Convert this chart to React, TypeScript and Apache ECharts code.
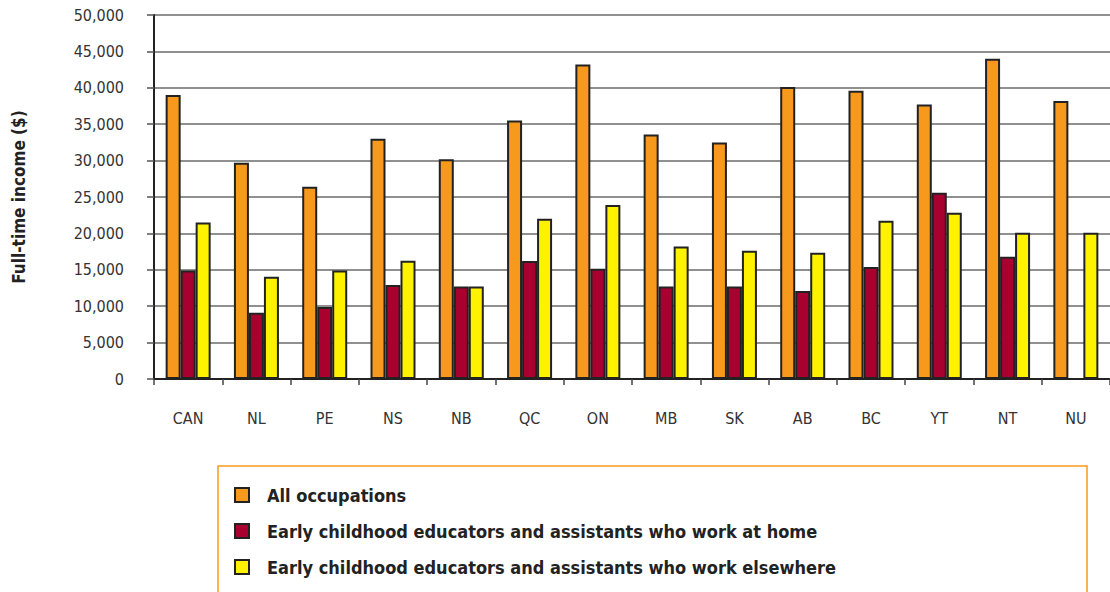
import React, { useEffect, useRef } from "react";
import * as echarts from "echarts";

const categories = ["CAN", "NL", "PE", "NS", "NB", "QC", "ON", "MB", "SK", "AB", "BC", "YT", "NT", "NU"];
const allOccupations = [39000, 29700, 26400, 33000, 30200, 35500, 43200, 33600, 32500, 40100, 39600, 37700, 44000, 38200];
const workAtHome = [14900, 9100, 9900, 12900, 12700, 16200, 15150, 12700, 12700, 12100, 15400, 25600, 16800, null];
const workElsewhere = [21500, 14050, 14900, 16250, 12700, 22000, 23900, 18200, 17600, 17350, 21750, 22850, 20100, 20100];
const seriesNames = [
  "All occupations",
  "Early childhood educators and assistants who work at home",
  "Early childhood educators and assistants who work elsewhere",
];
const yTicks = { min: 0, max: 50000, interval: 5000 };

const FONT = "'Liberation Sans Narrow', 'DejaVu Sans Condensed', 'Roboto', sans-serif";
const COLORS = ["#F7991C", "#A8002F", "#FFF200"];

export default function App() {
  const ref = useRef<HTMLDivElement>(null);
  useEffect(() => {
    if (!ref.current) return;
    const chart = echarts.init(ref.current, null, { renderer: "svg" });
    const data = [allOccupations, workAtHome, workElsewhere];
    chart.setOption({
      animation: false,
      backgroundColor: "#ffffff",
      textStyle: { fontFamily: FONT },
      grid: { left: 154, top: 15, right: 0, bottom: 213, containLabel: false },
      legend: {
        orient: "vertical",
        left: 229,
        top: 481,
        itemWidth: 14,
        itemHeight: 14,
        itemGap: 18,
        icon: "rect",
        textStyle: { fontFamily: FONT, fontSize: 18, fontWeight: "bold", color: "#222", padding: [0, 0, 0, 13] },
        data: seriesNames,
      },
      graphic: [
        {
          type: "rect",
          shape: { x: 218, y: 466, width: 869, height: 140 },
          style: { fill: "none", stroke: "#F7991C", lineWidth: 1.5 },
          z: -1,
        },
      ],
      xAxis: {
        type: "category",
        data: categories,
        boundaryGap: true,
        axisLine: { show: true, lineStyle: { color: "#222", width: 2 } },
        axisTick: { show: true, length: 6, lineStyle: { color: "#444", width: 1.5 } },
        axisLabel: { margin: 31, fontSize: 16, color: "#333", fontFamily: FONT },
      },
      yAxis: {
        type: "value",
        min: yTicks.min,
        max: yTicks.max,
        interval: yTicks.interval,
        name: "Full-time income ($)",
        nameLocation: "middle",
        nameRotate: 90,
        nameGap: 127,
        nameTextStyle: { fontSize: 17, fontWeight: "bold", color: "#222", fontFamily: FONT },
        axisLine: { show: true, lineStyle: { color: "#222", width: 2 } },
        axisTick: { show: true, length: 7, lineStyle: { color: "#555", width: 1.5 } },
        axisLabel: {
          margin: 30,
          fontSize: 16,
          color: "#333",
          fontFamily: FONT,
          formatter: (v: number) => v.toLocaleString("en-US"),
        },
        splitLine: { show: true, lineStyle: { color: "#6b6b6b", width: 1.5 } },
      },
      series: seriesNames.map((name, i) => ({
        name,
        type: "bar",
        data: data[i],
        barWidth: 15,
        barGap: "0%",
        itemStyle: { color: COLORS[i], borderColor: "#222", borderWidth: 2 },
      })),
    });
    return () => chart.dispose();
  }, []);
  return (
    <div
      ref={ref}
      style={{ position: "fixed", left: 0, top: 0, width: 1110, height: 592 }}
    />
  );
}
